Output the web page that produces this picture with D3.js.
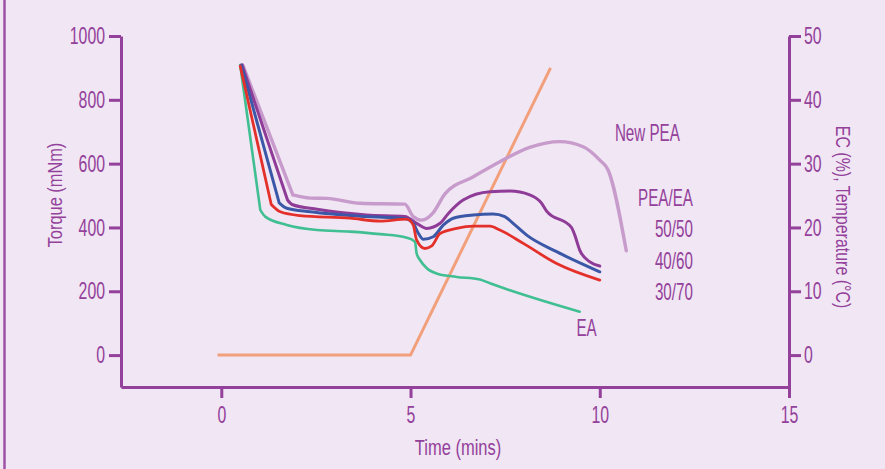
<!DOCTYPE html>
<html>
<head>
<meta charset="utf-8">
<script src="https://cdn.jsdelivr.net/npm/d3@7"></script>
<style>
  html, body { margin: 0; padding: 0; background: #f1e6f3; }
  svg { display: block; }
  text { font-family: "Liberation Sans", Arial, sans-serif; fill: #93419b; }
</style>
</head>
<body>
<div id="chart"></div>
<script>
// time (mins) / torque (mNm)
var newPEA = [[0.57,909],[1.89,502],[2.35,492],[2.79,491],[3.67,476],[4.85,473],[5.07,434],[5.30,423],[5.59,445],[5.91,505],[6.66,559],[7.36,606],[8.15,651],[8.94,669],[9.56,653],[10.0,611],[10.22,580],[10.70,327]];
var mix5050 = [[0.55,909],[1.75,486],[1.87,472],[2.53,457],[3.84,439],[4.85,434],[5.16,413],[5.43,397],[5.78,413],[6.0,444],[6.39,486],[7.10,512],[7.63,514],[8.15,502],[8.46,476],[8.59,452],[9.25,400],[9.34,376],[9.47,329],[9.74,292],[10.0,279]];
var mix4060 = [[0.53,909],[1.53,477],[1.73,460],[2.35,449],[3.84,434],[4.85,428],[5.07,413],[5.21,381],[5.34,363],[5.60,371],[5.87,408],[6.13,429],[6.66,439],[7.18,442],[7.49,434],[7.71,413],[8.07,376],[8.86,324],[10.0,261]];
var mix3070 = [[0.50,906],[1.32,472],[1.56,449],[2.08,437],[3.40,429],[4.20,420],[4.90,426],[5.07,408],[5.16,361],[5.38,334],[5.56,342],[5.78,381],[6.22,397],[6.66,404],[7.10,404],[7.36,392],[7.98,350],[8.86,287],[10.0,235]];
var ea = [[0.50,909],[1.03,455],[1.16,434],[1.73,408],[2.53,392],[3.40,387],[4.20,379],[4.90,368],[5.12,355],[5.16,319],[5.25,298],[5.43,272],[5.73,254],[6.22,245],[6.83,237],[7.10,225],[9.47,136]];
// temperature (°C)
var temperature = [[-0.1,0],[5,0],[8.7,45]];

var timeTicks = [0,5,10,15];
var torqueTicks = [0,200,400,600,800,1000];
var ecTicks = [0,10,20,30,40,50];

var series = [
  {name:'EA', data:ea, color:'#3fbf92', w:2.6},
  {name:'New PEA', data:newPEA, color:'#c79bcb', w:3.4},
  {name:'50/50', data:mix5050, color:'#8f3b98', w:3},
  {name:'40/60', data:mix4060, color:'#3b57a7', w:3},
  {name:'30/70', data:mix3070, color:'#e3302b', w:2.8}
];

var labels = [
  {text:'New PEA', x:10.40, y:696, anchor:'start'},
  {text:'PEA/EA', x:12.46, y:492, anchor:'end'},
  {text:'50/50', x:12.46, y:395, anchor:'end'},
  {text:'40/60', x:12.46, y:295, anchor:'end'},
  {text:'30/70', x:12.46, y:198, anchor:'end'},
  {text:'EA', x:9.65, y:85, anchor:'middle'}
];

var width = 885, height = 469, purple = '#93419b';

var svg = d3.select('#chart').append('svg')
  .attr('width', width).attr('height', height);

svg.append('rect').attr('width', width).attr('height', height).attr('fill', '#f1e6f3');
svg.append('line').attr('x1', 4.5).attr('x2', 4.5).attr('y1', 0).attr('y2', height)
  .attr('stroke', '#9d52a5').attr('stroke-width', 2.5);

var x = d3.scaleLinear().domain([-2.65, 15]).range([121, 789]);
var y = d3.scaleLinear().domain([-100, 1000]).range([387, 36]);
var y2 = d3.scaleLinear().domain([-5, 50]).range([387, 36]);

// squeeze text horizontally, the original uses a condensed face
function condense(sel, sx) {
  sel.each(function() {
    var t = d3.select(this);
    var xv = +t.attr('x') || 0;
    t.attr('x', xv / sx)
      .attr('transform', (t.attr('transform') || '') + ' scale(' + sx + ',1)');
  });
}

function styleAxis(g) {
  g.select('.domain').attr('stroke', purple).attr('stroke-width', 3);
  g.selectAll('.tick line').attr('stroke', purple).attr('stroke-width', 3);
  g.selectAll('.tick text').attr('fill', purple).attr('font-family', null).style('font-size', '24px')
    .call(condense, 0.66);
}

svg.append('g').attr('transform', 'translate(0,387)')
  .call(d3.axisBottom(x).tickValues(timeTicks).tickFormat(d3.format('d')).tickSize(11).tickSizeOuter(0).tickPadding(8))
  .call(styleAxis);

svg.append('g').attr('transform', 'translate(121,0)')
  .call(d3.axisLeft(y).tickValues(torqueTicks).tickFormat(d3.format('d')).tickSize(12).tickSizeOuter(0).tickPadding(4))
  .call(styleAxis);

svg.append('g').attr('transform', 'translate(789,0)')
  .call(d3.axisRight(y2).tickValues(ecTicks).tickFormat(d3.format('d')).tickSize(12).tickSizeOuter(0).tickPadding(3))
  .call(styleAxis);

// initial drop is a straight run, the rest is smoothed
var straight = d3.line().x(d => x(d[0])).y(d => y(d[1]));
var smooth = d3.line().x(d => x(d[0])).y(d => y(d[1])).curve(d3.curveMonotoneX);

svg.append('path')
  .datum(temperature)
  .attr('fill', 'none')
  .attr('stroke', '#f2a07c')
  .attr('stroke-width', 3)
  .attr('d', d3.line().x(d => x(d[0])).y(d => y2(d[1])));

svg.selectAll('.series')
  .data(series)
  .join('path')
  .attr('class', 'series')
  .attr('fill', 'none')
  .attr('stroke', d => d.color)
  .attr('stroke-width', d => d.w)
  .attr('stroke-linejoin', 'round')
  .attr('stroke-linecap', 'round')
  .attr('d', d => straight(d.data.slice(0, 2)) + smooth(d.data.slice(1)));

svg.selectAll('.lbl')
  .data(labels)
  .join('text')
  .attr('class', 'lbl')
  .attr('x', d => x(d.x))
  .attr('y', d => y(d.y))
  .attr('dy', '0.35em')
  .attr('text-anchor', d => d.anchor)
  .style('font-size', '23px')
  .text(d => d.text)
  .call(condense, 0.66);

svg.append('text')
  .attr('transform', 'translate(55,195) rotate(-90)')
  .attr('text-anchor', 'middle').attr('dy', '0.35em')
  .style('font-size', '21px')
  .text('Torque (mNm)')
  .call(condense, 0.78);

svg.append('text')
  .attr('transform', 'translate(843,217) rotate(90)')
  .attr('text-anchor', 'middle').attr('dy', '0.35em')
  .style('font-size', '21px')
  .text('EC (%), Temperature (°C)')
  .call(condense, 0.76);

svg.append('text')
  .attr('x', 458).attr('y', 447)
  .attr('text-anchor', 'middle').attr('dy', '0.35em')
  .style('font-size', '22px')
  .text('Time (mins)')
  .call(condense, 0.75);
</script>
</body>
</html>
